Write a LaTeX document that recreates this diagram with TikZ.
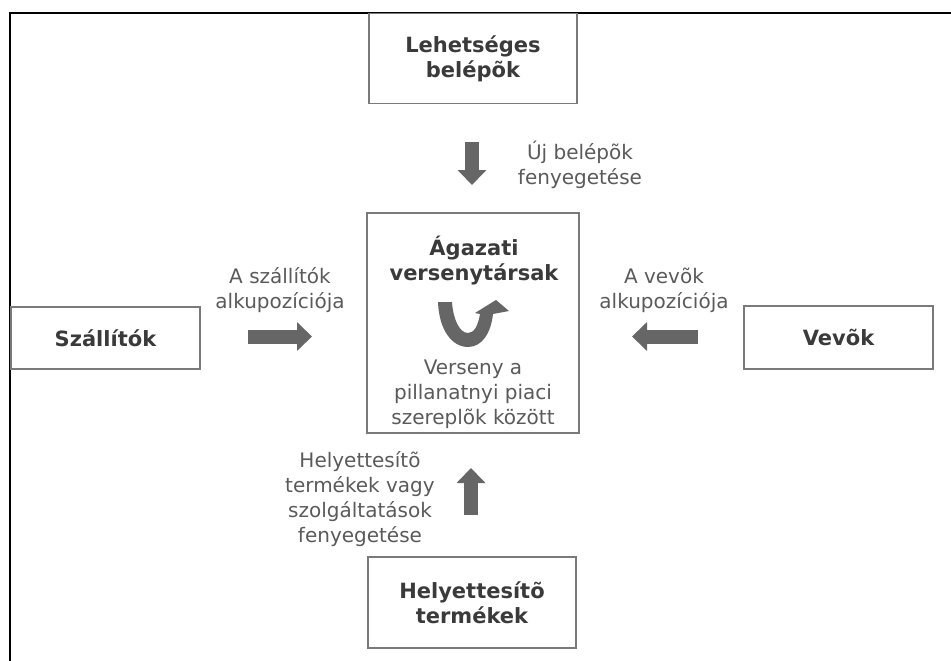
\documentclass[tikz,border=0pt]{standalone}
\usepackage{fontspec}
\setmainfont{DejaVu Sans}
\usetikzlibrary{arrows.meta}
\definecolor{boxline}{HTML}{7A7A7A}
\definecolor{arrowgray}{HTML}{666666}
\definecolor{txtgray}{HTML}{5A5A5A}
\definecolor{boldgray}{HTML}{3A3A3A}
\tikzset{
  box/.style={draw=boxline, line width=1.6pt, fill=white, rectangle, inner sep=0pt, align=center,
    font=\fontsize{21}{25}\selectfont\bfseries, text=boldgray},
  lbl/.style={align=center, inner sep=0pt, font=\fontsize{20}{25}\selectfont, text=txtgray},
  blockarrow/.style={draw=arrowgray, line width=14pt, -{Triangle[width=28pt,length=15pt]}, arrowgray}
}
\begin{document}
\begin{tikzpicture}[x=1pt,y=-1pt]
\useasboundingbox (0,0) rectangle (951,661);
% frame
\draw[line width=2.4pt, line cap=rect] (10,661) -- (10,13) -- (951,13);
% boxes
\node[box, minimum width=208pt, minimum height=90pt] (top) at (473,58.5) {Lehetséges\\belépõk};
\node[box, minimum width=212pt, minimum height=220pt] (mid) at (473,323) {};
\node[box, minimum width=189pt, minimum height=62pt] (left) at (105.5,338) {Szállítók};
\node[box, minimum width=189pt, minimum height=63pt] (right) at (838.5,337.5) {Vevõk};
\node[box, minimum width=208pt, minimum height=91pt] (bot) at (472,602.5) {Helyettesítõ\\termékek};
% center texts
\node[align=center, inner sep=0pt, font=\fontsize{21}{25}\selectfont\bfseries, text=boldgray] (midtitle) at (474,261) {Ágazati\\versenytársak};
\node[lbl] (midtext) at (473,394) {Verseny a\\pillanatnyi piaci\\szereplõk között};
% U-turn arrow
\fill[arrowgray] (438,302) .. controls (439,330) and (452,347) .. (468,347)
  .. controls (482,347) and (491,333) .. (493,314)
  -- (509,311) -- (496,300) -- (475,313) -- (480,314)
  .. controls (478,326) and (474,333) .. (468,333)
  .. controls (459,333) and (453,318) .. (452,302) -- cycle;
% labels
\node[lbl] (lnew) at (580,164.5) {Új belépõk\\fenyegetése};
\node[lbl] (lsup) at (280,290.5) {A szállítók\\alkupozíciója};
\node[lbl] (lbuy) at (664,290.5) {A vevõk\\alkupozíciója};
\node[lbl] (lsub) at (360,499.5) {Helyettesítõ\\termékek vagy\\szolgáltatások\\fenyegetése};
% block arrows
\coordinate (a1s) at (472,142); \coordinate (a1e) at (472,185);
\coordinate (a2s) at (248,336.5); \coordinate (a2e) at (312,336.5);
\coordinate (a3s) at (698,336.5); \coordinate (a3e) at (632,336.5);
\coordinate (a4s) at (471,515); \coordinate (a4e) at (471,468);
\draw[blockarrow] (a1s) -- (a1e);
\draw[blockarrow] (a2s) -- (a2e);
\draw[blockarrow] (a3s) -- (a3e);
\draw[blockarrow] (a4s) -- (a4e);
\end{tikzpicture}
\end{document}
